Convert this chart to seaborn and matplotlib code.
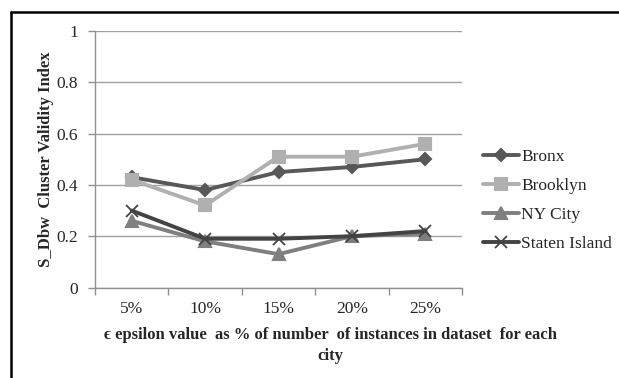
import matplotlib
matplotlib.use("Agg")
import matplotlib.pyplot as plt
from matplotlib.lines import Line2D
import seaborn as sns
import pandas as pd

categories = ["5%", "10%", "15%", "20%", "25%"]
bronx = [0.43, 0.38, 0.45, 0.47, 0.50]
brooklyn = [0.42, 0.32, 0.51, 0.51, 0.56]
ny_city = [0.26, 0.18, 0.13, 0.20, 0.21]
staten_island = [0.30, 0.19, 0.19, 0.20, 0.22]
series_names = ["Bronx", "Brooklyn", "NY City", "Staten Island"]
y_ticks = [0, 0.2, 0.4, 0.6, 0.8, 1]
y_tick_labels = ["0", "0.2", "0.4", "0.6", "0.8", "1"]

sns.set_theme(style="white")
plt.rcParams["font.family"] = ["Liberation Serif", "DejaVu Serif"]

fig = plt.figure(figsize=(6.19, 3.78), dpi=100)
ax = fig.add_axes([95 / 619, 1 - 287.5 / 378, 367 / 619, 256.5 / 378])

palette = {"Bronx": "#585858", "Brooklyn": "#b0b0b0", "NY City": "#7f7f7f", "Staten Island": "#434343"}
markers = {"Bronx": "D", "Brooklyn": "s", "NY City": "^", "Staten Island": "x"}
msize = {"Bronx": 6.5, "Brooklyn": 9, "NY City": 8.5, "Staten Island": 9}
mew = {"Bronx": 1.5, "Brooklyn": 1.5, "NY City": 1.5, "Staten Island": 1.3}

for name, vals in zip(series_names, [bronx, brooklyn, ny_city, staten_island]):
    d = pd.DataFrame({"pos": range(len(categories)), "value": vals})
    sns.lineplot(data=d, x="pos", y="value", ax=ax, color=palette[name],
                 marker=markers[name], markersize=msize[name],
                 markeredgewidth=mew[name], markeredgecolor=palette[name],
                 markerfacecolor=palette[name], linewidth=2.8)

ax.set_xlim(-0.5, 4.5)
ax.set_ylim(0, 1)
ax.set_yticks(y_ticks)
ax.set_yticklabels(y_tick_labels, fontsize=12.5)
ax.yaxis.grid(True, color="#a0a0a0", linewidth=1)
ax.set_axisbelow(True)

ax.set_xticks([i - 0.5 for i in range(len(categories) + 1)])
ax.set_xticklabels([])
ax.set_xticks(range(len(categories)), minor=True)
ax.set_xticklabels(categories, minor=True, fontsize=12.5)
ax.tick_params(axis="x", which="major", length=5, direction="out", color="#909090", width=1, bottom=True)
ax.tick_params(axis="x", which="minor", length=0, pad=10)
ax.tick_params(axis="y", length=5, direction="out", color="#909090", width=1, left=True, pad=7)

for side in ["top", "right"]:
    ax.spines[side].set_visible(False)
for side in ["left", "bottom"]:
    ax.spines[side].set_color("#909090")
    ax.spines[side].set_linewidth(1)

ax.set_xlabel("")
ax.set_ylabel("S_Dbw  Cluster Validity Index", fontsize=12, fontweight="bold", labelpad=2)

fig.text(330 / 619, 1 - 327 / 378,
         "\u03f5 epsilon value  as % of number  of instances in dataset  for each\ncity",
         ha="center", va="top", fontsize=12, fontweight="bold", linespacing=1.45)

handles = [Line2D([0], [0], color=palette[n], marker=markers[n], linewidth=2.8,
                  markersize=msize[n], markeredgewidth=mew[n],
                  markerfacecolor=palette[n], markeredgecolor=palette[n])
           for n in series_names]
fig.legend(handles, series_names, loc="center left",
           bbox_to_anchor=(483 / 619, 1 - 200 / 378), frameon=False,
           fontsize=12.5, handlelength=2.1, handletextpad=0.1, labelspacing=0.74,
           borderaxespad=0, borderpad=0)

# outer frame (left and top edges)
fig.add_artist(Line2D([11 / 619, 11 / 619], [0, 1 - 12 / 378], transform=fig.transFigure,
                      color="black", linewidth=1.8))
fig.add_artist(Line2D([11 / 619, 1], [1 - 12 / 378, 1 - 12 / 378], transform=fig.transFigure,
                      color="black", linewidth=1.8))

fig.savefig("out.png", dpi=100)
